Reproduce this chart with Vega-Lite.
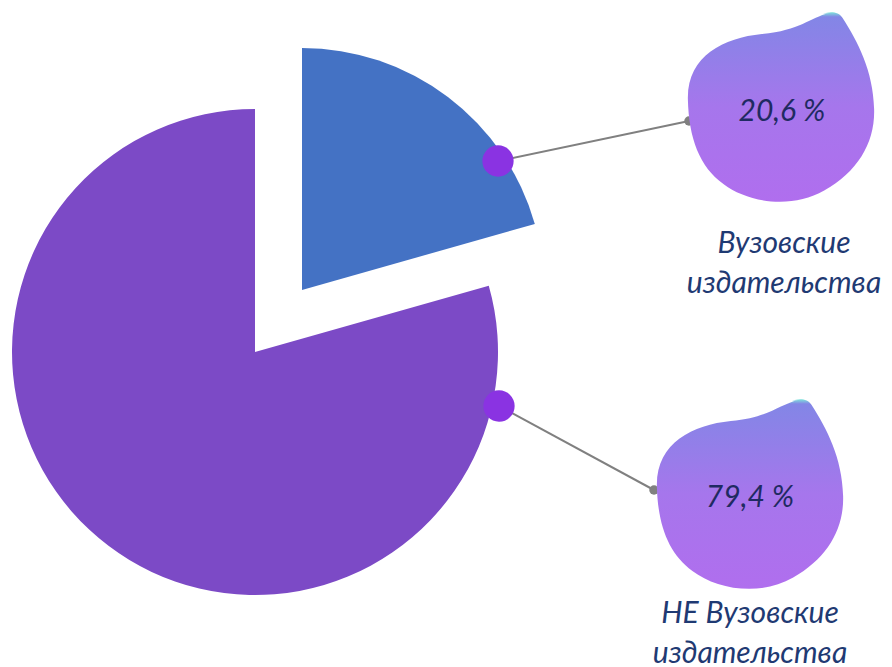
{
  "$schema": "https://vega.github.io/schema/vega-lite/v6.json",
  "width": 892,
  "height": 667,
  "padding": 0,
  "autosize": {"type": "fit", "contains": "padding"},
  "background": "white",
  "config": {"view": {"stroke": null}},
  "data": {"values": [
    {"category": "Вузовские издательства", "share": 20.6, "pct": "20,6 %", "label": "Вузовские\nиздательства"},
    {"category": "НЕ Вузовские издательства", "share": 79.4, "pct": "79,4 %", "label": "НЕ Вузовские\nиздательства"}
  ]},
  "layer": [
    {
      "mark": {"type": "arc", "x": 255, "y": 352, "outerRadius": 243, "stroke": null},
      "encoding": {
        "theta": {"field": "share", "type": "quantitative", "stack": true},
        "order": {"field": "share", "sort": "ascending"},
        "fill": {"condition": {"test": "datum.category === 'НЕ Вузовские издательства'", "value": "#7C4AC6"}, "value": "transparent"}
      }
    },
    {
      "mark": {"type": "arc", "x": 302, "y": 290, "outerRadius": 242, "stroke": null},
      "encoding": {
        "theta": {"field": "share", "type": "quantitative", "stack": true},
        "order": {"field": "share", "sort": "ascending"},
        "fill": {"condition": {"test": "datum.category === 'Вузовские издательства'", "value": "#4472C4"}, "value": "transparent"}
      }
    },
    {
      "transform": [{"filter": "datum.category === 'Вузовские издательства'"}],
      "mark": {"type": "rule", "stroke": "#808080", "strokeWidth": 2},
      "encoding": {"x": {"value": 498}, "y": {"value": 161}, "x2": {"value": 689}, "y2": {"value": 121}}
    },
    {
      "transform": [{"filter": "datum.category === 'НЕ Вузовские издательства'"}],
      "mark": {"type": "rule", "stroke": "#808080", "strokeWidth": 2},
      "encoding": {"x": {"value": 499}, "y": {"value": 406}, "x2": {"value": 654}, "y2": {"value": 490}}
    },
    {
      "transform": [{"filter": "datum.category === 'Вузовские издательства'"}],
      "mark": {"type": "point", "shape": "circle", "filled": true, "x": 498, "y": 161, "size": 980, "fill": "#8A33E2", "opacity": 1, "stroke": null},
      "encoding": {}
    },
    {
      "transform": [{"filter": "datum.category === 'НЕ Вузовские издательства'"}],
      "mark": {"type": "point", "shape": "circle", "filled": true, "x": 499, "y": 406, "size": 980, "fill": "#8A33E2", "opacity": 1, "stroke": null},
      "encoding": {}
    },
    {
      "transform": [{"filter": "datum.category === 'Вузовские издательства'"}],
      "mark": {"type": "point", "shape": "circle", "filled": true, "x": 689, "y": 121, "size": 90, "fill": "#808080", "opacity": 1, "stroke": null},
      "encoding": {}
    },
    {
      "transform": [{"filter": "datum.category === 'НЕ Вузовские издательства'"}],
      "mark": {"type": "point", "shape": "circle", "filled": true, "x": 654, "y": 490, "size": 90, "fill": "#808080", "opacity": 1, "stroke": null},
      "encoding": {}
    },
    {
      "transform": [{"filter": "datum.category === 'Вузовские издательства'"}],
      "mark": {
        "type": "point", "filled": true, "x": 781, "y": 109, "size": 36864, "opacity": 1, "stroke": null,
        "shape": "M 0.5 -1 C 0.3 -0.95 0.2 -0.82 -0.2 -0.78 C -0.6 -0.74 -0.98 -0.55 -0.97 -0.1 C -0.96 0.3 -0.85 0.6 -0.6 0.78 C -0.35 0.97 0.1 1.05 0.45 0.85 C 0.8 0.65 0.98 0.35 0.97 0 C 0.96 -0.4 0.8 -0.7 0.64 -0.95 C 0.6 -1.02 0.5 -1.02 0.44 -0.99 Z",
        "fill": {"gradient": "linear", "x1": 0, "y1": 0, "x2": 0, "y2": 1, "stops": [
          {"offset": 0, "color": "#7EE6DA"},
          {"offset": 0.025, "color": "#8386E6"},
          {"offset": 0.5, "color": "#A676EC"},
          {"offset": 1, "color": "#B06EEE"}
        ]}
      },
      "encoding": {}
    },
    {
      "transform": [{"filter": "datum.category === 'НЕ Вузовские издательства'"}],
      "mark": {
        "type": "point", "filled": true, "x": 750, "y": 496, "size": 36864, "opacity": 1, "stroke": null,
        "shape": "M 0.5 -1 C 0.3 -0.95 0.2 -0.82 -0.2 -0.78 C -0.6 -0.74 -0.98 -0.55 -0.97 -0.1 C -0.96 0.3 -0.85 0.6 -0.6 0.78 C -0.35 0.97 0.1 1.05 0.45 0.85 C 0.8 0.65 0.98 0.35 0.97 0 C 0.96 -0.4 0.8 -0.7 0.64 -0.95 C 0.6 -1.02 0.5 -1.02 0.44 -0.99 Z",
        "fill": {"gradient": "linear", "x1": 0, "y1": 0, "x2": 0, "y2": 1, "stops": [
          {"offset": 0, "color": "#7EE6DA"},
          {"offset": 0.025, "color": "#8386E6"},
          {"offset": 0.5, "color": "#A676EC"},
          {"offset": 1, "color": "#B06EEE"}
        ]}
      },
      "encoding": {}
    },
    {
      "transform": [{"filter": "datum.category === 'Вузовские издательства'"}],
      "mark": {"type": "text", "x": 782, "y": 121, "align": "center", "baseline": "alphabetic", "font": "Lato", "fontStyle": "italic", "fontSize": 30, "fill": "#1F2A62"},
      "encoding": {"text": {"field": "pct"}}
    },
    {
      "transform": [{"filter": "datum.category === 'НЕ Вузовские издательства'"}],
      "mark": {"type": "text", "x": 750, "y": 507, "align": "center", "baseline": "alphabetic", "font": "Lato", "fontStyle": "italic", "fontSize": 30, "fill": "#1F2A62"},
      "encoding": {"text": {"field": "pct"}}
    },
    {
      "transform": [{"filter": "datum.category === 'Вузовские издательства'"}],
      "mark": {"type": "text", "x": 784, "y": 253, "align": "center", "baseline": "alphabetic", "lineBreak": "\n", "lineHeight": 40, "font": "Lato", "fontStyle": "italic", "fontSize": 30, "fill": "#1F3A73"},
      "encoding": {"text": {"field": "label"}}
    },
    {
      "transform": [{"filter": "datum.category === 'НЕ Вузовские издательства'"}],
      "mark": {"type": "text", "x": 750, "y": 623, "align": "center", "baseline": "alphabetic", "lineBreak": "\n", "lineHeight": 40, "font": "Lato", "fontStyle": "italic", "fontSize": 30, "fill": "#1F3A73"},
      "encoding": {"text": {"field": "label"}}
    }
  ]
}
